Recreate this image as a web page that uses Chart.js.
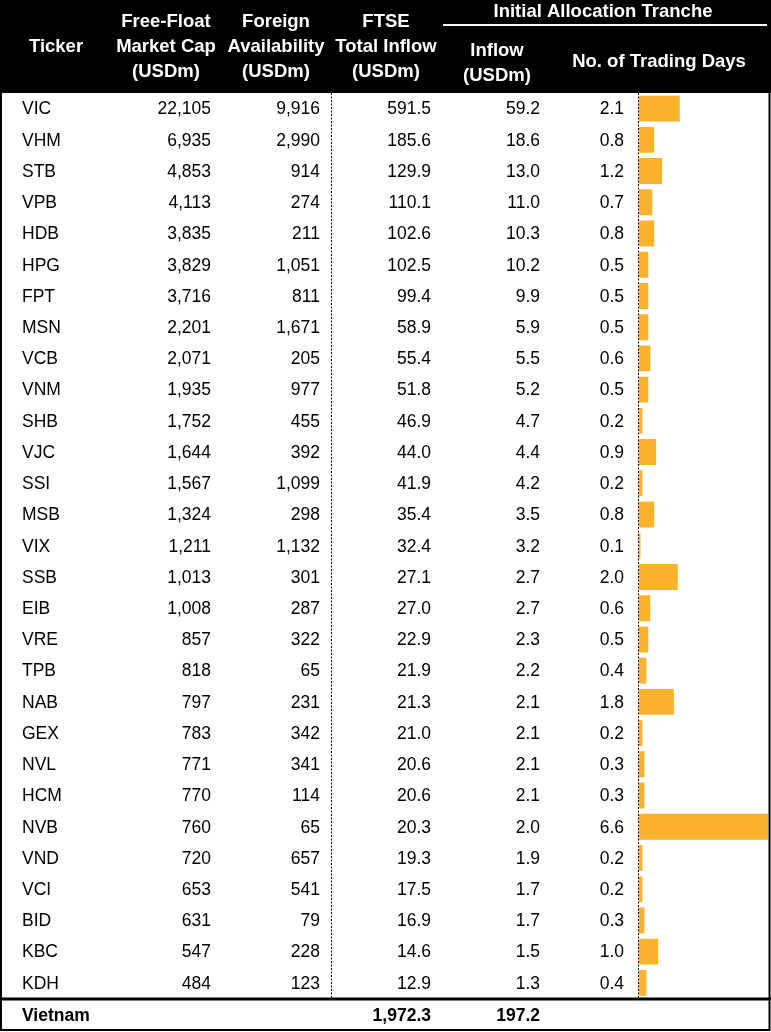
<!DOCTYPE html>
<html>
<head>
<meta charset="utf-8">
<script src="https://cdn.jsdelivr.net/npm/chart.js@4.4.1/dist/chart.umd.min.js"></script>
<style>
  html, body { margin: 0; padding: 0; background: #fff; }
  canvas { display: block; }
</style>
</head>
<body>
<canvas id="chart" width="771" height="1032"></canvas>
<script>
// table data
const tickers = ["VIC", "VHM", "STB", "VPB", "HDB", "HPG", "FPT", "MSN", "VCB", "VNM", "SHB", "VJC", "SSI", "MSB", "VIX",
    "SSB", "EIB", "VRE", "TPB", "NAB", "GEX", "NVL", "HCM", "NVB", "VND", "VCI", "BID", "KBC", "KDH"];
const freeFloatCap = [22105, 6935, 4853, 4113, 3835, 3829, 3716, 2201, 2071, 1935, 1752, 1644, 1567, 1324, 1211,
    1013, 1008, 857, 818, 797, 783, 771, 770, 760, 720, 653, 631, 547, 484];
const foreignAvail = [9916, 2990, 914, 274, 211, 1051, 811, 1671, 205, 977, 455, 392, 1099, 298, 1132,
    301, 287, 322, 65, 231, 342, 341, 114, 65, 657, 541, 79, 228, 123];
const ftseInflow = [591.5, 185.6, 129.9, 110.1, 102.6, 102.5, 99.4, 58.9, 55.4, 51.8, 46.9, 44.0, 41.9, 35.4, 32.4,
    27.1, 27.0, 22.9, 21.9, 21.3, 21.0, 20.6, 20.6, 20.3, 19.3, 17.5, 16.9, 14.6, 12.9];
const trancheInflow = [59.2, 18.6, 13.0, 11.0, 10.3, 10.2, 9.9, 5.9, 5.5, 5.2, 4.7, 4.4, 4.2, 3.5, 3.2,
    2.7, 2.7, 2.3, 2.2, 2.1, 2.1, 2.1, 2.1, 2.0, 1.9, 1.7, 1.7, 1.5, 1.3];
const tradingDays = [2.1, 0.8, 1.2, 0.7, 0.8, 0.5, 0.5, 0.5, 0.6, 0.5, 0.2, 0.9, 0.2, 0.8, 0.1,
    2.0, 0.6, 0.5, 0.4, 1.8, 0.2, 0.3, 0.3, 6.6, 0.2, 0.2, 0.3, 1.0, 0.4];
const totalLabel = "Vietnam";
const totalFtse = 1972.3;
const totalTranche = 197.2;

const W = 771, H = 1032;
const HEADER_H = 93;
const BODY_FONT = "17.5px 'Liberation Sans', Arial, sans-serif";
const BOLD_FONT = "bold 17.5px 'Liberation Sans', Arial, sans-serif";
const HEAD_FONT = "bold 18.5px 'Liberation Sans', Arial, sans-serif";

const fmtInt = v => v.toLocaleString("en-US");
const fmt1 = v => v.toLocaleString("en-US", { minimumFractionDigits: 1, maximumFractionDigits: 1 });

// right edges of the numeric columns
const columns = [
    { values: freeFloatCap, fmt: fmtInt, right: 211 },
    { values: foreignAvail, fmt: fmtInt, right: 320 },
    { values: ftseInflow, fmt: fmt1, right: 431 },
    { values: trancheInflow, fmt: fmt1, right: 540 },
    { values: tradingDays, fmt: fmt1, right: 624 },
];

const tablePlugin = {
    id: "tableText",
    beforeDraw(chart) {
        const ctx = chart.ctx;
        ctx.save();
        ctx.fillStyle = "#fff";
        ctx.fillRect(0, 0, W, H);
        ctx.restore();
    },
    afterDraw(chart) {
        const ctx = chart.ctx;
        const yScale = chart.scales.y;
        const area = chart.chartArea;
        ctx.save();

        // header band
        ctx.fillStyle = "#000";
        ctx.fillRect(0, 0, W, HEADER_H);
        ctx.fillStyle = "#fff";
        ctx.font = HEAD_FONT;
        ctx.textAlign = "center";
        ctx.textBaseline = "middle";
        const head = [
            ["Ticker", 56, 47],
            ["Free-Float", 166, 22], ["Market Cap", 166, 47], ["(USDm)", 166, 72],
            ["Foreign", 276, 22], ["Availability", 276, 47], ["(USDm)", 276, 72],
            ["FTSE", 386, 22], ["Total Inflow", 386, 47], ["(USDm)", 386, 72],
            ["Initial Allocation Tranche", 603, 12],
            ["Inflow", 497, 51], ["(USDm)", 497, 76],
            ["No. of Trading Days", 659, 62],
        ];
        head.forEach(([t, x, y]) => ctx.fillText(t, x, y));
        ctx.strokeStyle = "#fff";
        ctx.lineWidth = 2;
        ctx.beginPath();
        ctx.moveTo(443, 25);
        ctx.lineTo(767, 25);
        ctx.stroke();

        // body rows
        ctx.fillStyle = "#000";
        ctx.font = BODY_FONT;
        tickers.forEach((t, i) => {
            const y = yScale.getPixelForValue(i) + 1;
            ctx.textAlign = "left";
            ctx.fillText(t, 22, y);
            ctx.textAlign = "right";
            columns.forEach(c => ctx.fillText(c.fmt(c.values[i]), c.right, y));
        });

        // total row
        const ty = 1016;
        ctx.font = BOLD_FONT;
        ctx.textAlign = "left";
        ctx.fillText(totalLabel, 22, ty);
        ctx.textAlign = "right";
        ctx.fillText(fmt1(totalFtse), 431, ty);
        ctx.fillText(fmt1(totalTranche), 540, ty);

        // dashed separators
        ctx.strokeStyle = "#000";
        ctx.lineWidth = 1;
        ctx.setLineDash([2, 1.5]);
        [331.5, 638.5].forEach(x => {
            ctx.beginPath();
            ctx.moveTo(x, HEADER_H);
            ctx.lineTo(x, area.bottom);
            ctx.stroke();
        });
        ctx.setLineDash([]);

        // borders
        ctx.lineWidth = 3;
        ctx.beginPath();
        ctx.moveTo(0, 999);
        ctx.lineTo(W, 999);
        ctx.stroke();
        ctx.lineWidth = 2;
        ctx.beginPath();
        ctx.moveTo(1, HEADER_H);
        ctx.lineTo(1, H - 2);
        ctx.lineTo(769.5, H - 2);
        ctx.lineTo(769.5, HEADER_H);
        ctx.stroke();

        ctx.restore();
    }
};

new Chart(document.getElementById("chart"), {
    type: "bar",
    data: {
        labels: tickers,
        datasets: [{
            data: tradingDays,
            backgroundColor: "#FBB22F",
            borderWidth: 0,
            barPercentage: 0.83,
            categoryPercentage: 1.0,
        }]
    },
    options: {
        indexAxis: "y",
        responsive: false,
        animation: false,
        devicePixelRatio: 1,
        layout: { padding: { left: 638.5, right: 2, top: 93, bottom: 33.5 } },
        plugins: {
            legend: { display: false },
            tooltip: { enabled: false },
        },
        scales: {
            x: { display: false, min: 0, max: 6.65 },
            y: { display: false },
        },
    },
    plugins: [tablePlugin],
});
</script>
</body>
</html>
